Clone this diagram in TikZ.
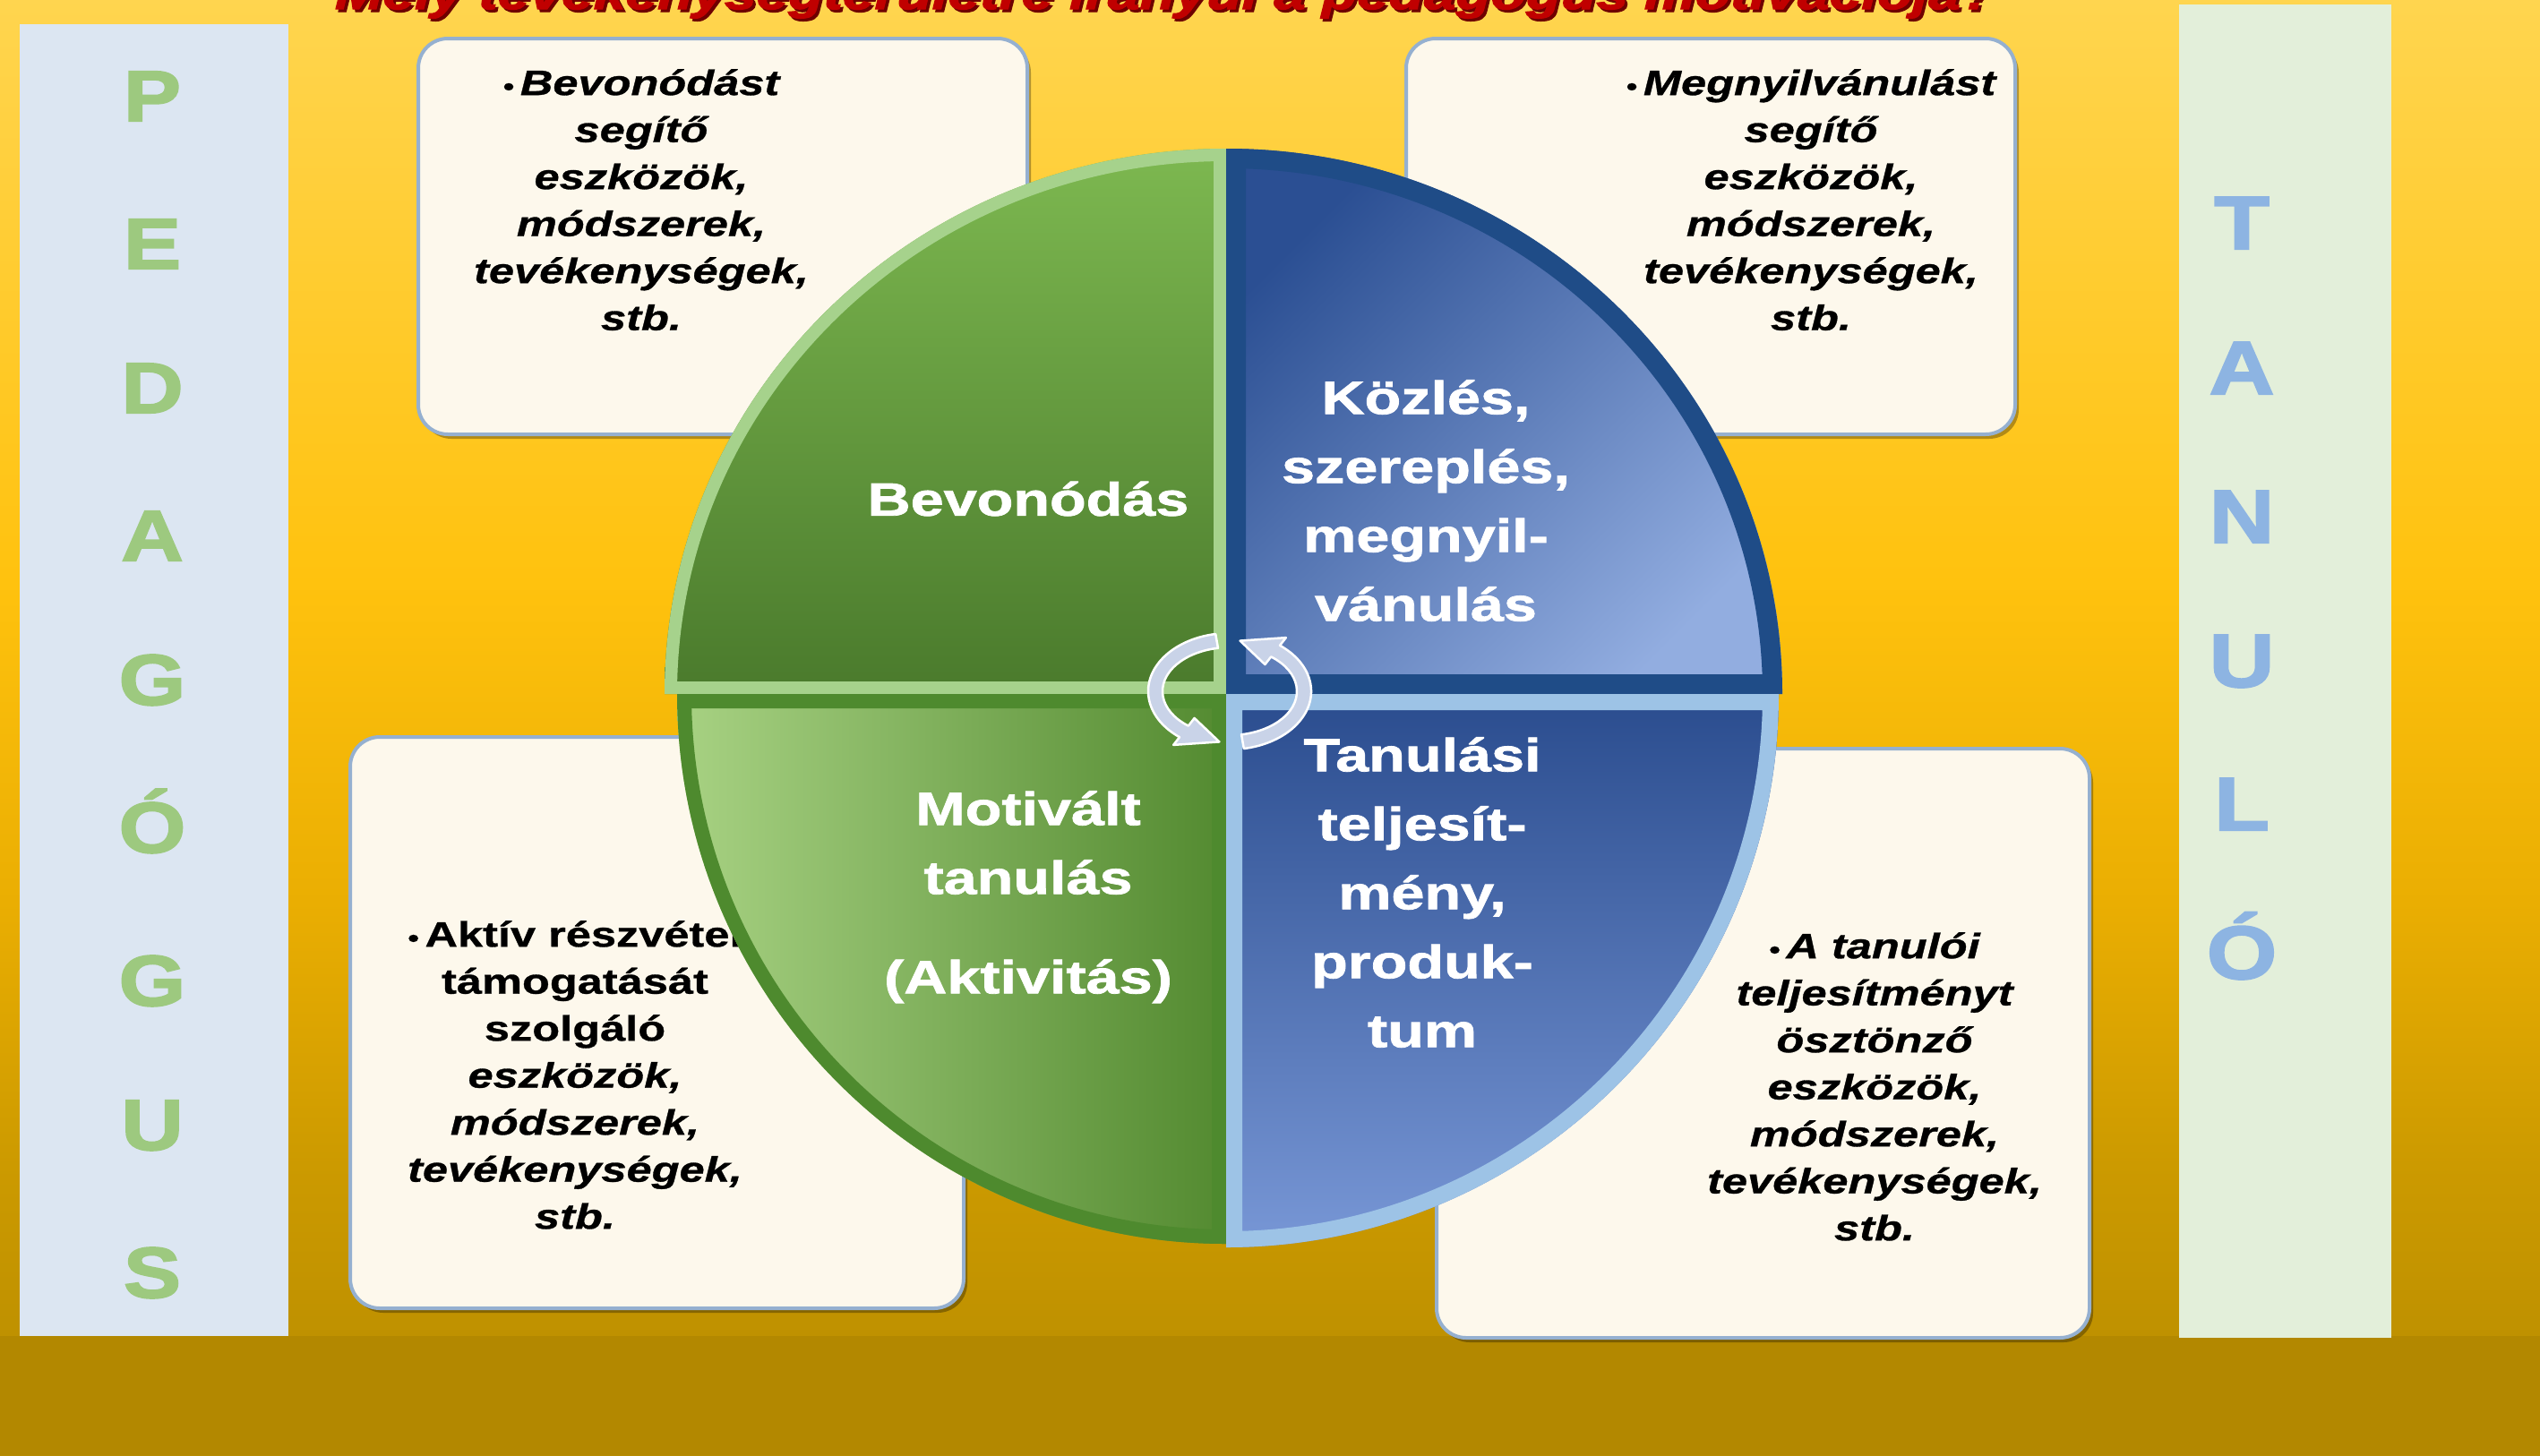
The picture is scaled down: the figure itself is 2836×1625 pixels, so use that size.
\documentclass[tikz,border=0pt]{standalone}
\usepackage{graphicx}
\usepackage{fontspec}
\setmainfont{Liberation Sans}[FakeStretch=1.28, BoldFeatures={FakeBold=0.8}, BoldItalicFeatures={FakeBold=0.8}]
\newfontfamily\letterfont{Liberation Sans}[FakeStretch=1.2, BoldFeatures={FakeBold=2.5}]
\newfontfamily\quadfont{Liberation Sans}[FakeStretch=1.28, BoldFeatures={FakeBold=1.5}]
\newfontfamily\titlefont{Liberation Sans}[FakeStretch=1.28, BoldItalicFeatures={FakeBold=2.5}]
\usetikzlibrary{calc}

\definecolor{bg1}{HTML}{FFD54F}
\definecolor{bg2}{HTML}{FFC20E}
\definecolor{bg3}{HTML}{EAAE02}
\definecolor{bg4}{HTML}{CC9A00}
\definecolor{bg5}{HTML}{B68B00}
\definecolor{bandcol}{HTML}{B38800}
\definecolor{boxfill}{HTML}{FDF8EC}
\definecolor{boxline}{HTML}{95B0D0}
\definecolor{panelL}{HTML}{DCE6F2}
\definecolor{panelR}{HTML}{E3EFDA}
\definecolor{letG}{HTML}{9DC97F}
\definecolor{letB}{HTML}{8DB4E2}
\definecolor{titlered}{HTML}{C00000}
\definecolor{titleshadow}{HTML}{6E0000}
\definecolor{tlborder}{HTML}{A6D28C}
\definecolor{tltop}{HTML}{7DB850}
\definecolor{tlbot}{HTML}{4A7A2C}
\definecolor{trborder}{HTML}{1F4C87}
\definecolor{trdark}{HTML}{2B4F93}
\definecolor{trlight}{HTML}{92ADE0}
\definecolor{blborder}{HTML}{4E8A2E}
\definecolor{blleft}{HTML}{A8D283}
\definecolor{blright}{HTML}{538A30}
\definecolor{brborder}{HTML}{9DC3E6}
\definecolor{brtop}{HTML}{2A4C8E}
\definecolor{brbot}{HTML}{7897D6}
\definecolor{arrowfill}{HTML}{C9D3E8}

\pgfdeclareverticalshading{bgshade}{100bp}{color(0bp)=(bg5); color(25bp)=(bg5); color(35bp)=(bg4); color(44bp)=(bg3); color(55bp)=(bg2); color(75bp)=(bg1); color(100bp)=(bg1)}

\newcommand{\bul}{{\fontsize{28}{28}\selectfont\upshape •}\,}

\tikzset{
  boxtext/.style={align=center, font=\fontsize{39.5}{52.5}\selectfont\bfseries\itshape, text=black, inner sep=0pt, anchor=north},
  quadtext/.style={align=center, font=\quadfont\fontsize{52}{77}\selectfont\bfseries, text=white, inner sep=0pt},
  pedletter/.style={font=\letterfont\fontsize{80}{80}\selectfont\bfseries, text=letG, inner sep=0pt, anchor=base},
  tanletter/.style={font=\letterfont\fontsize{84}{84}\selectfont\bfseries, text=letB, inner sep=0pt, anchor=base},
  infobox/.style={fill=boxfill, draw=boxline, line width=4pt, rounded corners=33pt},
  boxshadow/.style={fill=black, opacity=0.3, rounded corners=33pt},
  titletext/.style={font=\titlefont\bfseries\itshape\fontsize{40}{40}\selectfont, inner sep=0pt, anchor=base},
  cycarrow/.style={fill=arrowfill, draw=white, line width=2.5pt, line join=round}
}

\newcommand{\cycarrowpath}[1]{%
  \filldraw[cycarrow]
    ($(A)+(100+#1:91pt and 65pt)$) arc[start angle=100+#1, end angle=232+#1, x radius=91pt, y radius=65pt]
    -- ($(A)+(232+#1:102pt and 76pt)$) -- ($(A)+(262+#1:83pt and 57pt)$)
    -- ($(A)+(232+#1:64pt and 38pt)$) -- ($(A)+(232+#1:75pt and 49pt)$)
    arc[start angle=232+#1, end angle=100+#1, x radius=75pt, y radius=49pt] -- cycle;}

\begin{document}
\begin{tikzpicture}[x=1pt,y=-1pt]
\useasboundingbox (0,0) rectangle (2836,1625);
\clip (0,0) rectangle (2836,1625);

% background
\shade[shading=bgshade] (0,0) rectangle (2836,1625);
\fill[bandcol] (0,1492) rectangle (2836,1625);

% side panels
\fill[panelL] (22,27) rectangle (322,1492);
\fill[panelR] (2433,5) rectangle (2670,1494);

\node[pedletter] (p1) at (170,135) {P};
\node[pedletter] (p2) at (170,300) {E};
\node[pedletter] (p3) at (170,461) {D};
\node[pedletter] (p4) at (170,626) {A};
\node[pedletter] (p5) at (170,787) {G};
\node[pedletter] (p6) at (170,952) {Ó};
\node[pedletter] (p7) at (170,1123) {G};
\node[pedletter] (p8) at (170,1284) {U};
\node[pedletter] (p9) at (170,1449) {S};

\node[tanletter] (t1) at (2503,278) {T};
\node[tanletter] (t2) at (2503,440) {A};
\node[tanletter] (t3) at (2503,606) {N};
\node[tanletter] (t4) at (2503,767) {U};
\node[tanletter] (t5) at (2503,927) {L};
\node[tanletter] (t6) at (2503,1093) {Ó};

% title (cut off at the top edge, as in the reference)
\node[titletext, text=titleshadow] (titleshadow) at (1304,13) {\resizebox{1854pt}{!}{Mely tevékenységterületre irányul a pedagógus motivációja?}};
\node[titletext, text=titlered] (title) at (1301,10) {\resizebox{1854pt}{!}{Mely tevékenységterületre irányul a pedagógus motivációja?}};

% info boxes
\fill[boxshadow] (471,48) rectangle (1151,490);
\draw[infobox] (467,43) rectangle (1147,485);
\fill[boxshadow] (1574,48) rectangle (2254,490);
\draw[infobox] (1570,43) rectangle (2250,485);
\fill[boxshadow] (395,828) rectangle (1080,1466);
\draw[infobox] (391,823) rectangle (1076,1461);
\fill[boxshadow] (1608,841) rectangle (2337,1499);
\draw[infobox] (1604,836) rectangle (2333,1494);

\node[boxtext] (bt1) at (716,77) {\bul Bevonódást\\segítő\\eszközök,\\módszerek,\\tevékenységek,\\stb.};
\node[boxtext] (bt2) at (2022,77) {\bul Megnyilvánulást\\segítő\\eszközök,\\módszerek,\\tevékenységek,\\stb.};
\node[boxtext] (bt3) at (642,1028) {{\upshape\bul Aktív részvétel}\\{\upshape támogatását}\\{\upshape szolgáló}\\eszközök,\\módszerek,\\tevékenységek,\\stb.};
\node[boxtext] (bt4) at (2093,1041) {\bul A tanulói\\teljesítményt\\ösztönző\\eszközök,\\módszerek,\\tevékenységek,\\stb.};

% circle quadrants
\coordinate (C) at (1369,775);
\def\secTL{(C) -- ++(-627pt,0pt) arc[start angle=180, end angle=90, x radius=627pt, y radius=609pt] -- cycle}
\def\secTR{(C) -- ++(0pt,609pt) arc[start angle=90, end angle=0, x radius=621pt, y radius=609pt] -- cycle}
\def\secBL{(C) -- ++(-613pt,0pt) arc[start angle=180, end angle=270, x radius=613pt, y radius=614pt] -- cycle}
\def\secBR{(C) -- ++(0pt,-618pt) arc[start angle=270, end angle=360, x radius=617pt, y radius=618pt] -- cycle}

\begin{scope}
  \clip \secTL;
  \shade[top color=tltop, bottom color=tlbot] \secTL;
  \draw[tlborder, line width=28pt] \secTL;
\end{scope}
\begin{scope}
  \clip \secTR;
  \shade[top color=trdark, bottom color=trlight, shading angle=45] \secTR;
  \draw[trborder, line width=44pt] \secTR;
\end{scope}
\begin{scope}
  \clip \secBL;
  \shade[left color=blleft, right color=blright] \secBL;
  \draw[blborder, line width=32pt] \secBL;
\end{scope}
\begin{scope}
  \clip \secBR;
  \shade[top color=brtop, bottom color=brbot] \secBR;
  \draw[brborder, line width=36pt] \secBR;
\end{scope}

% cycle arrows
\coordinate (A) at (1373,772);
\cycarrowpath{0}
\cycarrowpath{180}

% quadrant labels
\node[quadtext] (qtl) at (1148,557) {Bevonódás};
\node[quadtext, anchor=north] (qtr) at (1592,424) {Közlés,\\szereplés,\\megnyil-\\vánulás};
\node[quadtext, anchor=north] (qbl) at (1148,883) {Motivált\\tanulás\\[34pt](Aktivitás)};
\node[quadtext, anchor=north] (qbr) at (1588,823) {Tanulási\\teljesít-\\mény,\\produk-\\tum};
\end{tikzpicture}
\end{document}
